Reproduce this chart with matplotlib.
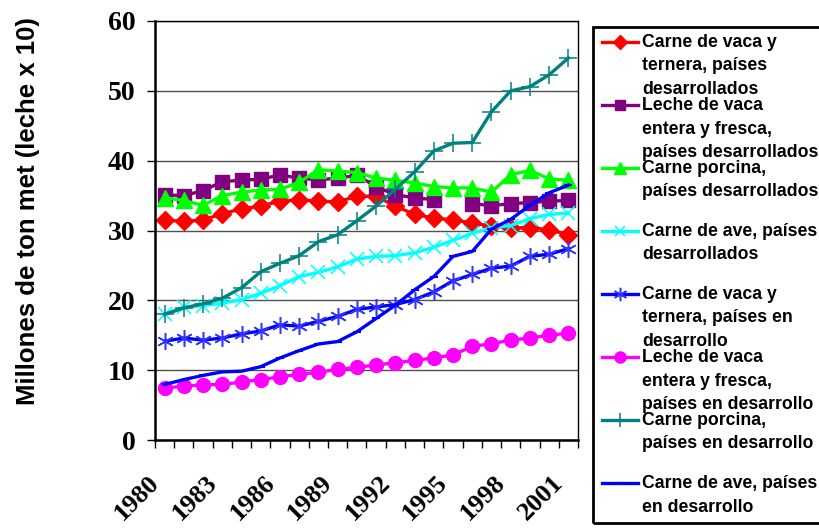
import numpy as np
import matplotlib.pyplot as plt
from matplotlib.lines import Line2D
from matplotlib.patches import Rectangle
from matplotlib.transforms import ScaledTranslation

years = list(range(1980, 2002))

# millones de toneladas (leche x 10)
vaca_des = [31.5, 31.3, 31.5, 32.4, 33.1, 33.5, 34.2, 34.4, 34.2, 34.1, 34.9,
            34.9, 33.5, 32.3, 31.8, 31.5, 31.1, 30.6, 30.4, 30.4, 30.1, 29.4]
leche_des = [35.1, 35.0, 35.7, 37.0, 37.2, 37.35, 37.95, 37.5, 37.25, 37.5, 37.9,
             36.3, 35.1, 34.7, 34.4, np.nan, 33.85, 33.55, 33.85, 34.0, 34.2, 34.3]
porc_des = [34.7, 34.3, 33.6, 35.0, 35.5, 35.8, 35.9, 36.9, 38.7, 38.5, 38.3,
            37.5, 37.2, 36.8, 36.3, 36.1, 36.1, 35.5, 38.0, 38.6, 37.4, 37.2]
ave_des = [18.0, 19.05, 19.25, 19.6, 20.1, 21.0, 22.1, 23.4, 24.0, 24.8, 25.9,
           26.3, 26.4, 26.8, 27.6, 28.6, 29.6, 30.4, 30.7, 31.7, 32.3, 32.5]
vaca_dev = [14.15, 14.6, 14.3, 14.6, 15.2, 15.6, 16.5, 16.3, 17.0, 17.7, 18.7,
            19.05, 19.4, 20.1, 21.2, 22.8, 23.7, 24.6, 24.9, 26.3, 26.6, 27.4]
leche_dev = [7.45, 7.7, 7.9, 7.95, 8.3, 8.65, 9.05, 9.4, 9.7, 10.1, 10.4,
             10.75, 11.05, 11.4, 11.75, 12.2, 13.4, 13.8, 14.3, 14.6, 15.0, 15.3]
porc_dev = [18.0, 18.9, 19.5, 20.3, 21.8, 24.1, 25.3, 26.4, 28.4, 29.4, 31.4,
            33.5, 35.9, 38.4, 41.4, 42.5, 42.6, 47.0, 50.0, 50.6, 52.3, 54.7]
ave_dev = [7.95, 8.65, 9.25, 9.75, 9.85, 10.5, 11.75, 12.8, 13.75, 14.1, 15.5,
           17.4, 19.3, 21.5, 23.4, 26.3, 27.0, 30.2, 31.6, 33.6, 35.4, 36.5]

labels = ["Carne de vaca y\nternera, países\ndesarrollados",
          "Leche de vaca\nentera y fresca,\npaíses desarrollados",
          "Carne porcina,\npaíses desarrollados",
          "Carne de ave, países\ndesarrollados",
          "Carne de vaca y\nternera, países en\ndesarrollo",
          "Leche de vaca\nentera y fresca,\npaíses en desarrollo",
          "Carne porcina,\npaíses en desarrollo",
          "Carne de ave, países\nen desarrollo"]

series = [vaca_des, leche_des, porc_des, ave_des, vaca_dev, leche_dev, porc_dev, ave_dev]

estilos = [
    dict(color='#FF0000', marker='D', ms=9.5, mec='#FF0000'),
    dict(color='#800080', marker='s', ms=9.5, mec='#800080'),
    dict(color='#00FF00', marker='^', ms=11, mec='#00FF00'),
    dict(color='#00FFFF', marker='x', ms=9.5, mew=1.1, mec='#00FFFF'),
    dict(color='#0000FF', marker=(6, 2, 0), ms=12, mew=1.1, mec='#3333FF'),
    dict(color='#FF00FF', marker='o', ms=10, mec='#FF00FF'),
    dict(color='#008080', marker='+', ms=13, mew=1.1, mec='#008080'),
    dict(color='#0000FF', marker='_', ms=6, mew=1.5, mec='#0000FF'),
]

W, H = 820, 529
fig = plt.figure(figsize=(W / 100, H / 100), dpi=100)
ax = fig.add_axes([155 / W, 1 - 440 / H, (578 - 155) / W, (440 - 21) / H])

x = np.arange(len(years))
for y, st in zip(series, estilos):
    ax.plot(x, y, lw=2.4, **st)

ax.set_xlim(-0.5, len(years) - 0.5)
ax.set_ylim(0, 60)
ax.set_yticks(range(0, 61, 10))
ax.grid(axis='y', color='#505050', lw=1)
ax.set_axisbelow(True)

serif = dict(family='Liberation Serif', weight='bold')
ax.set_yticklabels([str(v) for v in range(0, 61, 10)], fontdict=dict(size=20, **serif))
ax.tick_params(axis='y', length=6, width=1, pad=8, direction='out')

# etiquetas cada tres años, marcas entre categorias
ax.set_xticks(x[::3])
ax.set_xticklabels([str(a) for a in years[::3]], rotation=45, ha='right',
                   va='top', rotation_mode='anchor', fontdict=dict(size=19, **serif))
ax.tick_params(axis='x', which='major', length=0, pad=26)
desplaza = ScaledTranslation(-0.17, 0.05, fig.dpi_scale_trans)
for t in ax.get_xticklabels():
    t.set_transform(t.get_transform() + desplaza)
ax.set_xticks(np.arange(-0.5, len(years)), minor=True)
ax.tick_params(axis='x', which='minor', length=6, width=1, direction='out')

for side in ['left', 'bottom']:
    ax.spines[side].set_linewidth(1.8)
for side in ['top', 'right']:
    ax.spines[side].set_linewidth(1)

fig.text(28 / W, 1 - 211 / H, 'Millones de ton met (leche x 10)', rotation=90,
         ha='center', va='center', family='Liberation Sans', weight='bold', size=18.5)

# leyenda dibujada a mano
fig.add_artist(Rectangle((593 / W, 1 - 523 / H), (830 - 593) / W, (523 - 27) / H,
                         transform=fig.transFigure, fill=False, ec='black', lw=2,
                         clip_on=False))
for i, (lab, st) in enumerate(zip(labels, estilos)):
    yy = 1 - (42 + 63 * i) / H
    fig.add_artist(Line2D([602 / W, 638 / W], [yy, yy], transform=fig.transFigure,
                          lw=2.4, color=st['color']))
    mk = {k: v for k, v in st.items() if k != 'color'}
    mk['ms'] = mk['ms'] * 0.8
    fig.add_artist(Line2D([620 / W], [yy], transform=fig.transFigure,
                          color=st['color'], ls='none', **mk))
    fig.text(642 / W, yy + 8 / H, lab, ha='left', va='top', family='Liberation Sans',
             weight='bold', size=12.7, linespacing=1.5)

fig.savefig('out.png', dpi=100)
